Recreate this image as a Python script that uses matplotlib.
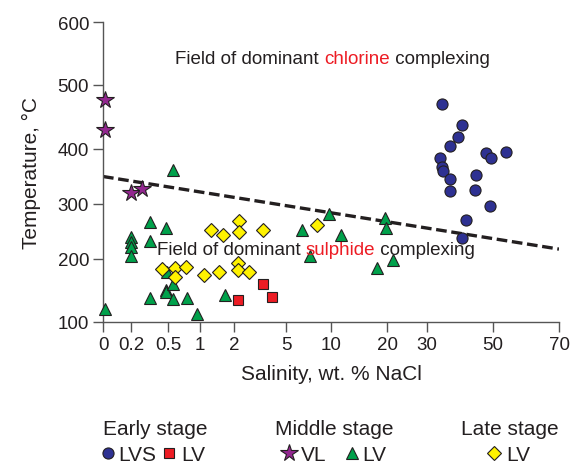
import numpy as np
import matplotlib
matplotlib.use('Agg')
import matplotlib.pyplot as plt

plt.rcParams['font.family'] = ['Liberation Sans', 'DejaVu Sans']

# Data (salinity wt.% NaCl, temperature C)
lvs_sal = [34.5, 40.5, 39.5, 37.0, 33.9, 34.5, 34.8, 37.0, 37.0, 47.9, 49.3, 53.8, 44.8, 44.5, 49.1, 41.8, 40.5]
lvs_temp = [471, 437, 418, 404, 384, 367, 360, 345, 323, 392, 383, 395, 353, 325, 296, 271, 238]

early_lv_sal = [3.69, 2.21, 4.21]
early_lv_temp = [161, 135, 139]

vl_sal = [0.014, 0.014, 0.198, 0.287]
vl_temp = [477, 430, 320, 327]

mid_lv_sal = [0.583, 0.2, 0.2, 0.2, 0.2, 0.354, 0.484, 0.354, 0.484, 0.484, 0.583, 0.354, 0.583,
              0.792, 1.735, 0.014, 0.958, 0.494, 6.74, 9.81, 11.79, 7.67, 19.64, 19.82, 18.16, 21.4]
mid_lv_temp = [362, 240, 231, 222, 206, 267, 256, 233, 151, 148, 161, 138, 137,
               138, 143, 121, 113, 180, 252, 282, 243, 206, 275, 256, 186, 198]

late_lv_sal = [1.315, 1.668, 2.29, 2.29, 3.69, 0.449, 0.609, 0.609, 0.78, 1.126, 1.568, 2.25, 2.25, 2.87, 8.41]
late_lv_temp = [253, 244, 270, 249, 253, 184, 185, 171, 187, 174, 180, 194, 183, 180, 262]

boundary_sal = [0, 70]
boundary_temp = [350, 218]

x_ticks = [0, 0.2, 0.5, 1, 2, 5, 10, 20, 30, 50, 70]
y_ticks = [100, 200, 300, 400, 500, 600]

# the original axes are hand-drawn: tick spacing is irregular, so map ticks piecewise
x_pos = [103, 131, 168, 200, 234, 286, 331, 387, 427, 493, 559]
y_pos = [-323, -260, -205, -150, -86, -23]

def xf(v):
    return np.interp(v, x_ticks, x_pos)

def xi(p):
    return np.interp(p, x_pos, x_ticks)

def yf(v):
    return np.interp(v, y_ticks, y_pos)

def yi(p):
    return np.interp(p, y_pos, y_ticks)

W, H = 572, 464
ink = '#231f20'
red = '#ed1c24'
blue = '#2e3192'
purple = '#92278f'
green = '#00a14b'
yellow = '#fff200'

fig = plt.figure(figsize=(W / 100, H / 100), dpi=100)
ax = fig.add_axes([103 / W, 1 - 323 / H, (559 - 103) / W, (323 - 23) / H])
ax.set_xscale('function', functions=(xf, xi))
ax.set_yscale('function', functions=(yf, yi))
ax.set_xlim(0, 70)
ax.set_ylim(100, 600)
ax.set_xticks(x_ticks)
ax.set_xticklabels([str(t) for t in x_ticks])
ax.set_yticks(y_ticks)
ax.minorticks_off()
for s in ['top', 'right']:
    ax.spines[s].set_visible(False)
for s in ['left', 'bottom']:
    ax.spines[s].set_color('#555555')
    ax.spines[s].set_linewidth(1.0)
ax.tick_params(length=7, width=1.0, color='#555555', labelsize=13.5, labelcolor=ink, pad=3)
ax.set_xlabel('Salinity, wt. % NaCl', fontsize=15, color=ink, labelpad=8)
ax.set_ylabel('Temperature, \u00b0C', fontsize=15, color=ink, labelpad=12)

ax.plot(boundary_sal, boundary_temp, color=ink, lw=2.4, dashes=(3.2, 1.4), zorder=2)

mk = dict(linestyle='none', markeredgecolor=ink, markeredgewidth=0.8, clip_on=False, zorder=3)
ax.plot(mid_lv_sal, mid_lv_temp, marker='^', ms=8.5, color=green, **mk)
ax.plot(late_lv_sal, late_lv_temp, marker='D', ms=6.8, color=yellow, **mk)
ax.plot(early_lv_sal, early_lv_temp, marker='s', ms=7, color=red, **mk)
ax.plot(vl_sal, vl_temp, marker='*', ms=13, color=purple, **mk)
ax.plot(lvs_sal, lvs_temp, marker='o', ms=8, color=blue, **mk)

def coloured_line(x, y, parts, size):
    t = fig.text(x / W, 1 - y / H, parts[0][0], color=parts[0][1], fontsize=size,
                 ha='left', va='baseline', zorder=5)
    for txt, col in parts[1:]:
        t = ax.annotate(txt, xy=(1, 0), xycoords=t, color=col, fontsize=size,
                        ha='left', va='bottom', zorder=5, annotation_clip=False)

coloured_line(175, 64, [('Field of dominant ', ink), ('chlorine', red), (' complexing', ink)], 13.5)
coloured_line(157, 255, [('Field of dominant ', ink), ('sulphide', red), (' complexing', ink)], 13.5)

# legend below the plot
lax = fig.add_axes([0, 0, 1, 1])
lax.set_xlim(0, W)
lax.set_ylim(H, 0)
lax.axis('off')
for x, title in [(103, 'Early stage'), (275, 'Middle stage'), (461, 'Late stage')]:
    lax.text(x, 435, title, fontsize=15, color=ink, va='baseline', ha='left')
lg = [(108, 'o', 8, blue, 'LVS', 118), (169, 's', 7, red, 'LV', 181),
      (289, '*', 13, purple, 'VL', 301), (352, '^', 8.5, green, 'LV', 362),
      (494, 'D', 6.8, yellow, 'LV', 506)]
for mx, m, ms, c, lab, tx in lg:
    lax.plot([mx], [454], marker=m, ms=ms, color=c, **mk)
    lax.text(tx, 461.5, lab, fontsize=15, color=ink, va='baseline', ha='left')

fig.savefig('out.png', dpi=100)
